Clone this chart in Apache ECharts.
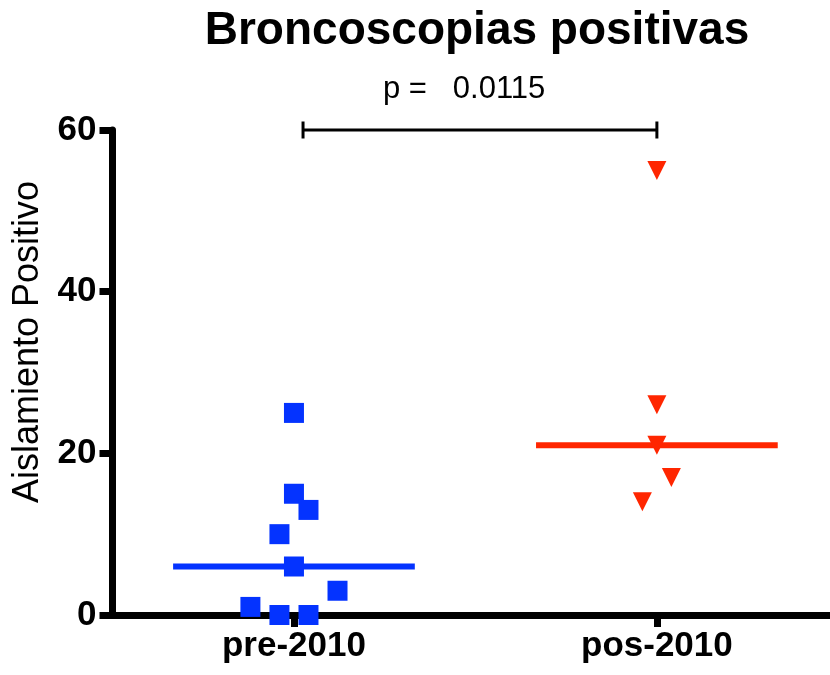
<!DOCTYPE html>
<html><head><meta charset="utf-8">
<script src="https://cdn.jsdelivr.net/npm/echarts@6/dist/echarts.min.js"></script>
<style>html,body{margin:0;padding:0;background:#fff}#c{width:830px;height:675px}</style>
</head><body><div id="c"></div>
<script>
// ---- data ----
const categories = ['pre-2010', 'pos-2010'];
const preValues  = [25, 15, 13, 10, 6, 3, 1, 0, 0];
const preOffsets = [0, 0, 0.04, -0.04, 0, 0.12, -0.12, -0.04, 0.04];
const posValues  = [55, 26, 21, 17, 14];
const posOffsets = [0, 0, 0, 0.04, -0.04];
const medians    = [6, 21];
const pValue     = '0.0115';
const yMin = 0, yMax = 60, yStep = 20;
const compareLevel = 60;
const titleText = 'Broncoscopias positivas';
const yName = 'Aislamiento Positivo';

// ---- styles ----
const FONT = "'Liberation Sans', Arial, Helvetica, sans-serif";
const BLUE = '#0433FF', RED = '#FF2600';
const HALF = 0.333;

const pos = i => i + 0.5; // category centre on the value x axis
const catPositions = categories.map((c, i) => pos(i));

const option = {
  animation: false,
  backgroundColor: '#fff',
  grid: { left: 112.5, right: 0, top: 130, bottom: 60, containLabel: false },
  xAxis: {
    type: 'value', min: 0, max: 1.977,
    axisLine: { show: true, onZero: false, lineStyle: { color: '#000', width: 7 } },
    axisTick: { show: true, customValues: catPositions, length: 12, lineStyle: { color: '#000', width: 7 } },
    axisLabel: {
      show: true, customValues: catPositions,
      formatter: v => categories[Math.round(v - 0.5)],
      color: '#000', fontFamily: FONT, fontWeight: 'bold', fontSize: 35, margin: 14
    },
    splitLine: { show: false }
  },
  yAxis: {
    type: 'value', min: yMin, max: yMax, interval: yStep,
    axisLine: { show: true, lineStyle: { color: '#000', width: 7 } },
    axisTick: { show: true, length: 13, lineStyle: { color: '#000', width: 7 } },
    axisLabel: { color: '#000', fontFamily: FONT, fontWeight: 'bold', fontSize: 35, margin: 16 },
    splitLine: { show: false }
  },
  graphic: [
    { type: 'text', x: 477, y: 31, style: { text: titleText, font: "bold 46px " + FONT, fill: '#000', align: 'center', verticalAlign: 'middle' } },
    { type: 'text', x: 383, y: 89, style: { text: 'p =   ' + pValue, font: "31px " + FONT, fill: '#000', align: 'left', verticalAlign: 'middle' } },
    { type: 'text', x: 28, y: 342, rotation: Math.PI / 2, style: { text: yName, font: "36px " + FONT, fill: '#000', align: 'center', verticalAlign: 'middle' } }
  ],
  series: [
    {
      type: 'line', clip: false,
      data: [[pos(0) - HALF, medians[0]], [pos(0) + HALF, medians[0]]],
      showSymbol: false, lineStyle: { color: BLUE, width: 6 }, z: 2
    },
    {
      type: 'line', clip: false,
      data: [[pos(1) - HALF, medians[1]], [pos(1) + HALF, medians[1]]],
      showSymbol: false, lineStyle: { color: RED, width: 6 }, z: 2
    },
    {
      type: 'scatter', clip: false,
      data: preValues.map((v, i) => [pos(0) + preOffsets[i], v]),
      symbol: 'rect', symbolSize: 20, itemStyle: { color: BLUE, opacity: 1 }, z: 3
    },
    {
      type: 'scatter', clip: false,
      data: posValues.map((v, i) => [pos(1) + posOffsets[i], v]),
      symbol: 'triangle', symbolRotate: 180, symbolSize: 19, itemStyle: { color: RED, opacity: 1 }, z: 3
    },
    {
      type: 'line', clip: false,
      data: [[pos(0) + 0.025, compareLevel], [pos(1), compareLevel]],
      symbol: 'rect', symbolSize: [3, 17], showSymbol: true, showAllSymbol: true,
      itemStyle: { color: '#000' }, lineStyle: { color: '#000', width: 3 }, z: 4
    }
  ]
};

const chart = echarts.init(document.getElementById('c'), null, { renderer: 'canvas' });
chart.setOption(option);
</script>
</body></html>
